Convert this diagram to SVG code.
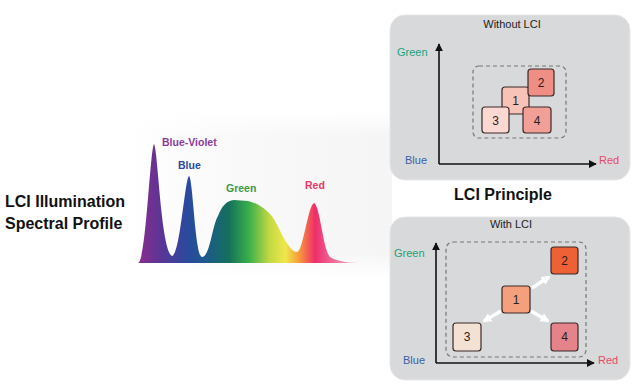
<svg xmlns="http://www.w3.org/2000/svg" width="642" height="392" viewBox="0 0 642 392">
<defs>
<linearGradient id="spec" x1="138" y1="0" x2="365" y2="0" gradientUnits="userSpaceOnUse">
<stop offset="0" stop-color="#8a2d8e"/>
<stop offset="0.1" stop-color="#5b3595"/>
<stop offset="0.22" stop-color="#2a4a9e"/>
<stop offset="0.3" stop-color="#1d5a8a"/>
<stop offset="0.4" stop-color="#14705c"/>
<stop offset="0.49" stop-color="#3bb04a"/>
<stop offset="0.58" stop-color="#c4d944"/>
<stop offset="0.65" stop-color="#efe84a"/>
<stop offset="0.71" stop-color="#f89a3c"/>
<stop offset="0.78" stop-color="#ee2d6a"/>
<stop offset="0.86" stop-color="#f06a98"/>
<stop offset="1" stop-color="#f9c8dc"/>
</linearGradient>
<linearGradient id="bg" x1="0" y1="0" x2="1" y2="0">
<stop offset="0" stop-color="#ffffff"/>
<stop offset="0.4" stop-color="#f9f9f9"/>
<stop offset="1" stop-color="#f5f5f5"/>
</linearGradient>
<linearGradient id="bgv" x1="0" y1="0" x2="0" y2="1">
<stop offset="0" stop-color="#fff" stop-opacity="1"/>
<stop offset="0.15" stop-color="#fff" stop-opacity="0"/>
<stop offset="0.85" stop-color="#fff" stop-opacity="0"/>
<stop offset="1" stop-color="#fff" stop-opacity="1"/>
</linearGradient>
<marker id="ah" viewBox="0 0 10 10" refX="9" refY="5" markerWidth="8" markerHeight="8" markerUnits="userSpaceOnUse" orient="auto">
<path d="M0,0 L10,5 L0,10 Z" fill="#111"/>
</marker>
<marker id="wh" viewBox="0 0 10 10" refX="8" refY="5" markerWidth="9" markerHeight="9" markerUnits="userSpaceOnUse" orient="auto">
<path d="M0,0 L10,5 L0,10 Z" fill="#fff"/>
</marker>
</defs>
<style>
.h{font-family:"Liberation Sans",Arial,sans-serif;font-weight:bold;font-size:16px;fill:#111}
.sl{font-family:"Liberation Sans",Arial,sans-serif;font-weight:bold;font-size:10.5px}
.panel{fill:#d8d9db;stroke:#e6e6e8;stroke-width:1}
.pt{font-family:"Liberation Sans",Arial,sans-serif;font-size:11px;fill:#222;text-anchor:middle}
.ax{stroke:#111;stroke-width:1.6;fill:none}
.dash{fill:none;stroke:#777;stroke-width:1.2;stroke-dasharray:4 3}
.box{stroke:#3a2a28;stroke-width:1.2}
.num{font-family:"Liberation Sans",Arial,sans-serif;font-size:12px;fill:#2a2020;text-anchor:middle}
.g{font-family:"Liberation Sans",Arial,sans-serif;font-size:11px;fill:#1aa37a}
.b{font-family:"Liberation Sans",Arial,sans-serif;font-size:11px;fill:#3a5ea8}
.r{font-family:"Liberation Sans",Arial,sans-serif;font-size:11px;fill:#e84a6a}
.wa{stroke:#fff;stroke-width:3.5;fill:none}
</style>
<rect width="642" height="392" fill="#fff"/>
<rect x="130" y="112" width="262" height="165" fill="url(#bg)"/>
<rect x="130" y="112" width="262" height="165" fill="url(#bgv)"/>
<g id="title-left">
<text class="h" x="5" y="207">LCI Illumination</text>
<text class="h" x="5" y="229">Spectral Profile</text>
</g>
<g id="spectrum">
<path d="M138,263 C146,262 150,150 154,144 C158,150 161,250 172,256 C180,256 185,178 189,176 C193,178 195,256 202,257 C210,257 212,226 218,216 C222,206 226,201 234,200 L248,201 C256,203 262,206 270,214 C276,220 280,232 285,240 C290,248 293,252 297,252 C303,252 308,205 314,203 C320,205 323,250 330,257 C338,262 350,263 365,263 Z" fill="url(#spec)"/>
<text class="sl" x="162" y="146" fill="#8a3a9a">Blue-Violet</text>
<text class="sl" x="178" y="169" fill="#2a4a9e">Blue</text>
<text class="sl" x="226" y="192" fill="#3a9a4a">Green</text>
<text class="sl" x="305" y="189" fill="#e8366a">Red</text>
</g>
<g id="title-principle">
<text class="h" x="503" y="200" text-anchor="middle">LCI Principle</text>
</g>
<g id="panel-without">
<rect class="panel" x="390" y="15" width="240" height="165" rx="15"/>
<text class="pt" x="512" y="28">Without LCI</text>
<rect class="dash" x="473" y="66" width="93" height="72" rx="6"/>
</g>
<g id="panel-with">
<rect class="panel" x="390" y="217" width="240" height="163" rx="15"/>
<text class="pt" x="511" y="228">With LCI</text>
<rect class="dash" x="446" y="242" width="140" height="115" rx="7"/>
</g>
<g id="connectors">
<path class="ax" d="M439,164 L439,44" marker-end="url(#ah)"/>
<path class="ax" d="M439,164 L596,164" marker-end="url(#ah)"/>
<path class="ax" d="M436,363 L436,243" marker-end="url(#ah)"/>
<path class="ax" d="M436,363 L594,363" marker-end="url(#ah)"/>
<path class="wa" d="M532,288 L549,277" marker-end="url(#wh)"/>
<path class="wa" d="M501,311 L484,321" marker-end="url(#wh)"/>
<path class="wa" d="M531,311 L548,321" marker-end="url(#wh)"/>
</g>
<g id="labels-without">
<text class="g" x="397" y="56">Green</text>
<text class="b" x="405" y="164">Blue</text>
<text class="r" x="599" y="164">Red</text>
</g>
<g id="labels-with">
<text class="g" x="394" y="257">Green</text>
<text class="b" x="403" y="364">Blue</text>
<text class="r" x="598" y="364">Red</text>
</g>
<g id="w-box1"><rect class="box" x="502" y="87" width="27" height="27" rx="3" fill="#f7c3b9"/><text class="num" x="515.5" y="105">1</text></g>
<g id="w-box2"><rect class="box" x="528" y="69" width="26" height="27" rx="3" fill="#ee8e84"/><text class="num" x="541" y="87">2</text></g>
<g id="w-box3"><rect class="box" x="482" y="107" width="27" height="26" rx="3" fill="#fbd9d2"/><text class="num" x="495.5" y="125">3</text></g>
<g id="w-box4"><rect class="box" x="523" y="107" width="28" height="26" rx="3" fill="#f2a097"/><text class="num" x="537" y="125">4</text></g>
<g id="l-box1"><rect class="box" x="502" y="286" width="28" height="27" rx="3" fill="#f5a07c"/><text class="num" x="516" y="304">1</text></g>
<g id="l-box2"><rect class="box" x="551" y="247" width="27" height="27" rx="3" fill="#ee6035"/><text class="num" x="564.5" y="265">2</text></g>
<g id="l-box3"><rect class="box" x="453" y="323" width="28" height="28" rx="3" fill="#f3e2d3"/><text class="num" x="467" y="341">3</text></g>
<g id="l-box4"><rect class="box" x="551" y="323" width="27" height="28" rx="3" fill="#e5838a"/><text class="num" x="564.5" y="341">4</text></g>
</svg>
